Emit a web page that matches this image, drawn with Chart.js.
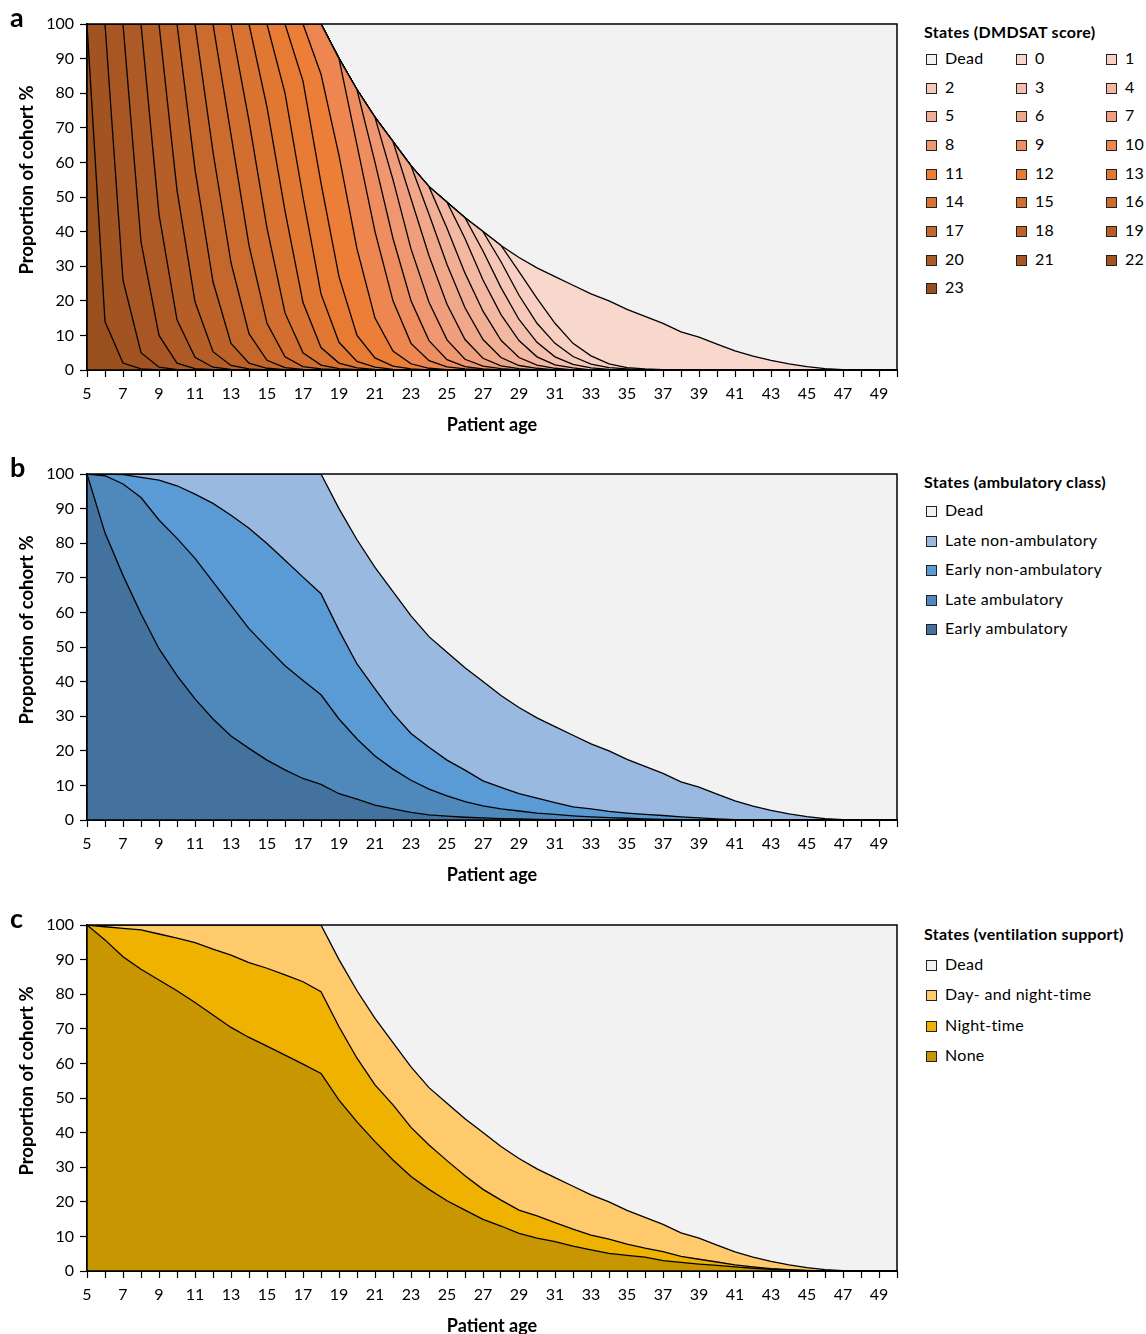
<!DOCTYPE html>
<html>
<head>
<meta charset="utf-8">
<script src="https://cdn.jsdelivr.net/npm/chart.js@4.4.0/dist/chart.umd.min.js"></script>
<style>
body { margin: 0; background: #fff; font-family: Lato, sans-serif; }
.panel { position: absolute; left: 0; width: 1146px; height: 451px; }
.panel canvas { position: absolute; left: 0; top: 0; }
.letter { position: absolute; left: 10px; top: 2px; font-weight: bold; font-size: 27px; line-height: 30px; }
.ytitle { position: absolute; left: 26px; top: 180px; width: 0; height: 0; }
.ytitle span { position: absolute; left: 0; top: 0; transform: translate(-50%, -50%) rotate(-90deg); white-space: nowrap; font-weight: bold; font-size: 18.5px; }
.legend { position: absolute; left: 924px; top: 0; font-size: 16px; letter-spacing: 0.3px; color: #000; }
.legend .ttl { position: absolute; left: 0; white-space: nowrap; font-weight: bold; line-height: 20px; }
.legend .it { position: absolute; white-space: nowrap; line-height: 20px; }
.legend .sw { display: inline-block; width: 9px; height: 9px; border: 1px solid #222; margin-right: 8px; vertical-align: -1px; }
</style>
</head>
<body>
<div class="panel" style="top:0"><canvas id="ca" width="910" height="450"></canvas><div class="letter">a</div><div class="ytitle"><span>Proportion of cohort %</span></div><div class="legend" id="la"></div></div>
<div class="panel" style="top:450px"><canvas id="cb" width="910" height="450"></canvas><div class="letter">b</div><div class="ytitle"><span>Proportion of cohort %</span></div><div class="legend" id="lb"></div></div>
<div class="panel" style="top:901px"><canvas id="cc" width="910" height="450"></canvas><div class="letter">c</div><div class="ytitle"><span>Proportion of cohort %</span></div><div class="legend" id="lc"></div></div>
<script>
// patient age, 5 to 50
var ages = [5,6,7,8,9,10,11,12,13,14, 15,16,17,18,19,20,21,22,23,24, 25,26,27,28,29,30,31,32,33,34, 35,36,37,38,39,40,41,42,43,44, 45,46,47,48,49,50];

// share of cohort alive (%)
var alive = [100,100,100,100,100,100,100,100,100,100, 100,100,100,100,90,81,73,66,59,53, 48.5,44,40,36,32.5,29.5,27,24.5,22,20, 17.5,15.5,13.5,11,9.5,7.5,5.5,4,2.8,1.8, 1,0.4,0.1,0,0,0];

// panel a: cumulative % with DMDSAT score >= n
var ge23 = [100,14,2,0.3,0,0,0,0,0,0, 0,0,0,0,0,0,0,0,0,0, 0,0,0,0,0,0,0,0,0,0, 0,0,0,0,0,0,0,0,0,0, 0,0,0,0,0,0];
var ge22 = [100,100,26,5,0.8,0.1,0,0,0,0, 0,0,0,0,0,0,0,0,0,0, 0,0,0,0,0,0,0,0,0,0, 0,0,0,0,0,0,0,0,0,0, 0,0,0,0,0,0];
var ge21 = [100,100,100,37,10,2,0.4,0.1,0,0, 0,0,0,0,0,0,0,0,0,0, 0,0,0,0,0,0,0,0,0,0, 0,0,0,0,0,0,0,0,0,0, 0,0,0,0,0,0];
var ge20 = [100,100,100,100,45,14.5,3.7,0.8,0.2,0, 0,0,0,0,0,0,0,0,0,0, 0,0,0,0,0,0,0,0,0,0, 0,0,0,0,0,0,0,0,0,0, 0,0,0,0,0,0];
var ge19 = [100,100,100,100,100,52,19.7,5.3,1.3,0.3, 0,0,0,0,0,0,0,0,0,0, 0,0,0,0,0,0,0,0,0,0, 0,0,0,0,0,0,0,0,0,0, 0,0,0,0,0,0];
var ge18 = [100,100,100,100,100,100,58,25.5,7.7,2, 0.5,0.1,0,0,0,0,0,0,0,0, 0,0,0,0,0,0,0,0,0,0, 0,0,0,0,0,0,0,0,0,0, 0,0,0,0,0,0];
var ge17 = [100,100,100,100,100,100,100,63,31,10.5, 2.8,0.7,0.2,0,0,0,0,0,0,0, 0,0,0,0,0,0,0,0,0,0, 0,0,0,0,0,0,0,0,0,0, 0,0,0,0,0,0];
var ge16 = [100,100,100,100,100,100,100,100,68,36, 13.5,3.8,1,0.3,0.1,0,0,0,0,0, 0,0,0,0,0,0,0,0,0,0, 0,0,0,0,0,0,0,0,0,0, 0,0,0,0,0,0];
var ge15 = [100,100,100,100,100,100,100,100,100,72, 41,16.5,5,1.4,0.4,0.1,0,0,0,0, 0,0,0,0,0,0,0,0,0,0, 0,0,0,0,0,0,0,0,0,0, 0,0,0,0,0,0];
var ge14 = [100,100,100,100,100,100,100,100,100,100, 76,46,19.5,6.5,2,0.6,0.2,0,0,0, 0,0,0,0,0,0,0,0,0,0, 0,0,0,0,0,0,0,0,0,0, 0,0,0,0,0,0];
var ge13 = [100,100,100,100,100,100,100,100,100,100, 100,80,50,22,8,2.5,0.8,0.2,0,0, 0,0,0,0,0,0,0,0,0,0, 0,0,0,0,0,0,0,0,0,0, 0,0,0,0,0,0];
var ge12 = [100,100,100,100,100,100,100,100,100,100, 100,100,83.5,54,27,10,3.5,1.1,0.3,0, 0,0,0,0,0,0,0,0,0,0, 0,0,0,0,0,0,0,0,0,0, 0,0,0,0,0,0];
var ge11 = [100,100,100,100,100,100,100,100,100,100, 100,100,100,85.5,62,35,15,5.5,1.8,0.5, 0.1,0,0,0,0,0,0,0,0,0, 0,0,0,0,0,0,0,0,0,0, 0,0,0,0,0,0];
var ge10 = [100,100,100,100,100,100,100,100,100,100, 100,100,100,100,90,65,40,20,7.7,2.7, 0.9,0.3,0.1,0,0,0,0,0,0,0, 0,0,0,0,0,0,0,0,0,0, 0,0,0,0,0,0];
var ge9  = [100,100,100,100,100,100,100,100,100,100, 100,100,100,100,90,81,60,38,20,8.5, 3,1,0.3,0,0,0,0,0,0,0, 0,0,0,0,0,0,0,0,0,0, 0,0,0,0,0,0];
var ge8  = [100,100,100,100,100,100,100,100,100,100, 100,100,100,100,90,81,73,55,35,19.6, 8.7,3.1,1.1,0.4,0,0,0,0,0,0, 0,0,0,0,0,0,0,0,0,0, 0,0,0,0,0,0];
var ge7  = [100,100,100,100,100,100,100,100,100,100, 100,100,100,100,90,81,73,66,49.5,33, 19,8.8,3.4,1.2,0.4,0,0,0,0,0, 0,0,0,0,0,0,0,0,0,0, 0,0,0,0,0,0];
var ge6  = [100,100,100,100,100,100,100,100,100,100, 100,100,100,100,90,81,73,66,59,45, 30.5,18,8.8,3.6,1.3,0.5,0,0,0,0, 0,0,0,0,0,0,0,0,0,0, 0,0,0,0,0,0];
var ge5  = [100,100,100,100,100,100,100,100,100,100, 100,100,100,100,90,81,73,66,59,53, 41,28,17,8.6,3.6,1.4,0.5,0,0,0, 0,0,0,0,0,0,0,0,0,0, 0,0,0,0,0,0];
var ge4  = [100,100,100,100,100,100,100,100,100,100, 100,100,100,100,90,81,73,66,59,53, 48.5,38,26,16,8.5,3.8,1.5,0.6,0,0, 0,0,0,0,0,0,0,0,0,0, 0,0,0,0,0,0];
var ge3  = [100,100,100,100,100,100,100,100,100,100, 100,100,100,100,90,81,73,66,59,53, 48.5,44,34.4,23.8,14.6,8,3.8,1.6,0.6,0.2, 0,0,0,0,0,0,0,0,0,0, 0,0,0,0,0,0];
var ge2  = [100,100,100,100,100,100,100,100,100,100, 100,100,100,100,90,81,73,66,59,53, 48.5,44,40,31.3,21.6,13.5,7.7,3.9,1.7,0.7, 0.3,0,0,0,0,0,0,0,0,0, 0,0,0,0,0,0];
var ge1  = [100,100,100,100,100,100,100,100,100,100, 100,100,100,100,90,81,73,66,59,53, 48.5,44,40,36,28.4,20.7,13.5,7.7,4.1,1.8, 0.7,0.3,0.1,0,0,0,0,0,0,0, 0,0,0,0,0,0];

// panel b: cumulative % by ambulatory class
var earlyAmb = [100,83,70.7,59.6,49.5,41.7,35,29.2,24.3,20.7, 17.3,14.5,12,10.3,7.6,6,4.3,3.2,2.2,1.5, 1.1,0.8,0.6,0.4,0.3,0.2,0.1,0,0,0, 0,0,0,0,0,0,0,0,0,0, 0,0,0,0,0,0];
var lateAmb = [100,99.5,97.1,93.2,86.7,81.4,75.6,68.8,62,55.3, 49.9,44.6,40.3,36.2,29.2,23.4,18.5,14.7,11.5,8.9, 7,5.3,4.1,3.2,2.6,2,1.6,1.2,0.9,0.7, 0.5,0.3,0.2,0.1,0,0,0,0,0,0, 0,0,0,0,0,0];
var earlyNonAmb = [100,100,99.8,99,98.2,96.6,94.2,91.5,88.1,84.3, 79.9,75.1,70.2,65.4,54.8,45.1,37.9,30.8,25,21, 17.3,14.4,11.3,9.4,7.6,6.3,5,3.8,3.2,2.5, 2,1.6,1.3,0.9,0.6,0.3,0.1,0,0,0, 0,0,0,0,0,0];

// panel c: cumulative % by ventilation support
var ventNone = [100,95.7,90.8,87.2,84.1,81,77.6,74,70.4,67.5, 65,62.4,59.8,57.1,49.4,43.1,37.4,32.1,27.3,23.6, 20.3,17.6,14.9,13,10.9,9.5,8.5,7.2,6.1,5.1, 4.5,4,3,2.5,2,1.6,1.2,0.8,0.5,0.3, 0.1,0,0,0,0,0];
var ventNight = [100,99.5,99,98.6,97.4,96.2,94.9,93,91.3,89.1, 87.5,85.6,83.6,80.7,70.6,61.5,53.8,48,41.5,36.4, 31.9,27.5,23.6,20.5,17.6,15.9,14,12.1,10.4,9.2, 7.8,6.6,5.6,4.2,3.4,2.6,1.8,1.2,0.7,0.4, 0.2,0,0,0,0,0];

var scoreLabels = ['23','22','21','20','19','18','17','16','15','14','13','12','11','10','9','8','7','6','5','4','3','2','1','0'];
var scoreColors = ['#9a4f1f','#a15322','#a85624','#ae5a26','#b55e28','#bd632a','#c4672c','#cb6b2e','#d26f30','#d97332','#e07733','#e87b34','#ed7e38','#ed8650','#ee8e60','#ee9770','#ef9f7d','#f0a88a','#f1b096','#f2b8a1','#f4c0ad','#f5c8b8','#f7d0c3','#f8d7cd'];
var deadColor = '#f2f2f2';

var framePlugin = {
  id: 'frame',
  beforeDraw: function (chart) {
    var a = chart.chartArea, ctx = chart.ctx;
    ctx.save();
    ctx.fillStyle = deadColor;
    ctx.fillRect(a.left, a.top, a.right - a.left, a.bottom - a.top);
    ctx.restore();
  },
  afterDraw: function (chart) {
    var a = chart.chartArea, ctx = chart.ctx;
    ctx.save();
    ctx.strokeStyle = '#000';
    ctx.lineWidth = 1.5;
    ctx.strokeRect(a.left, a.top, a.right - a.left, a.bottom - a.top);
    ctx.restore();
  }
};

function makeChart(id, series, colors) {
  var datasets = series.map(function (s, i) {
    return {
      data: ages.map(function (a, j) { return { x: a, y: s[j] }; }),
      backgroundColor: colors[i],
      borderColor: '#000',
      borderWidth: 1.3,
      pointRadius: 0,
      tension: 0,
      fill: i === 0 ? 'origin' : '-1'
    };
  });
  new Chart(document.getElementById(id).getContext('2d'), {
    type: 'line',
    data: { datasets: datasets },
    plugins: [framePlugin],
    options: {
      responsive: false,
      animation: false,
      layout: { padding: { left: 12, right: 13, top: 24, bottom: 12 } },
      plugins: { legend: { display: false }, tooltip: { enabled: false } },
      scales: {
        x: {
          type: 'linear', min: 5, max: 50,
          grid: { drawOnChartArea: false, color: '#000', tickLength: 7, tickWidth: 1.2 },
          border: { color: '#000', width: 2 },
          ticks: {
            stepSize: 1, autoSkip: false, maxRotation: 0, minRotation: 0, color: '#000', padding: 7,
            font: { family: 'Lato', size: 16 },
            callback: function (v) { return v % 2 === 1 ? String(v) : ''; }
          },
          title: { display: true, text: 'Patient age', color: '#000', font: { family: 'Lato', size: 18, weight: 'bold' }, padding: { top: 4, bottom: 2 } },
          afterFit: function (s) { s.height = 68; }
        },
        y: {
          min: 0, max: 100,
          grid: { drawOnChartArea: false, color: '#000', tickLength: 7, tickWidth: 1.2 },
          border: { color: '#000', width: 2 },
          ticks: { stepSize: 10, color: '#000', padding: 6, font: { family: 'Lato', size: 16 } },
          title: { display: false },
          afterFit: function (s) { s.width = 75; }
        }
      }
    }
  });
}

function makeLegend(id, title, items, cols, rowTops, colLefts) {
  var el = document.getElementById(id);
  var html = '<div class="ttl" style="top:' + (rowTops[0] - 10) + 'px">' + title + '</div>';
  items.forEach(function (it, i) {
    var r = Math.floor(i / cols) + 1, c = i % cols;
    html += '<div class="it" style="top:' + (rowTops[r] - 10) + 'px;left:' + colLefts[c] + 'px">' +
      '<span class="sw" style="background:' + it[1] + '"></span>' + it[0] + '</div>';
  });
  el.innerHTML = html;
}

makeChart('ca', [ge23, ge22, ge21, ge20, ge19, ge18, ge17, ge16, ge15, ge14, ge13, ge12, ge11, ge10, ge9, ge8, ge7, ge6, ge5, ge4, ge3, ge2, ge1, alive], scoreColors);
var itemsA = [['Dead', deadColor]];
for (var k = scoreLabels.length - 1; k >= 0; k--) itemsA.push([scoreLabels[k], scoreColors[k]]);
makeLegend('la', 'States (DMDSAT score)', itemsA, 3, [32, 58, 87, 115, 144, 173, 201, 230, 259, 287], [2, 92, 182]);

var ambColors = ['#43729e', '#4f89bb', '#5a9bd6', '#99b9e0'];
makeChart('cb', [earlyAmb, lateAmb, earlyNonAmb, alive], ambColors);
makeLegend('lb', 'States (ambulatory class)', [['Dead', deadColor], ['Late non-ambulatory', ambColors[3]], ['Early non-ambulatory', ambColors[2]], ['Late ambulatory', ambColors[1]], ['Early ambulatory', ambColors[0]]], 1, [32, 60, 90, 119, 149, 178], [2]);

var ventColors = ['#c89600', '#efb200', '#ffca6c'];
makeChart('cc', [ventNone, ventNight, alive], ventColors);
makeLegend('lc', 'States (ventilation support)', [['Dead', deadColor], ['Day- and night-time', ventColors[2]], ['Night-time', ventColors[1]], ['None', ventColors[0]]], 1, [33, 63, 93, 124, 154], [2]);
</script>
</body>
</html>
